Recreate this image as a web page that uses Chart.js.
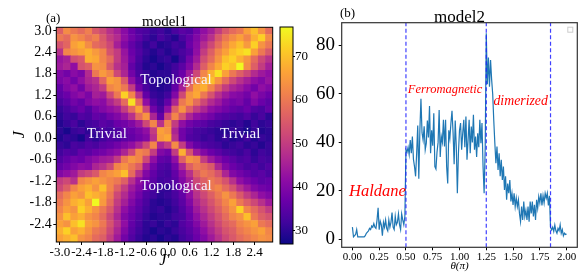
<!DOCTYPE html>
<html>
<head>
<meta charset="utf-8">
<script src="https://cdn.jsdelivr.net/npm/chart.js@4.4.0/dist/chart.umd.min.js"></script>
<style>
  body { margin: 0; background: #fff; }
  #wrap { position: relative; width: 582px; height: 276px; overflow: hidden; background: #fff; }
  canvas { position: absolute; top: 0; }
</style>
</head>
<body>
<div id="wrap">
  <canvas id="heat" width="300" height="276" style="left:0px"></canvas>
  <canvas id="cbar" width="50" height="276" style="left:270px"></canvas>
  <canvas id="line" width="282" height="276" style="left:300px"></canvas>
</div>
<script>
// ---- panel (a): model1, rows from top (J = 3.0) to bottom, columns from J' = -3.0 to the right
const model1Rows = [
  [56, 63, 60, 58, 61, 55, 52, 48, 45, 41, 37, 34, 33, 31, 32, 30, 33, 35, 34, 38, 42, 45, 50, 55, 58, 60, 66, 70, 64, 58],
  [60, 58, 64, 62, 59, 61, 55, 50, 47, 42, 38, 35, 32, 30, 33, 31, 29, 33, 36, 40, 44, 48, 55, 60, 63, 66, 62, 68, 72, 63],
  [54, 57, 66, 68, 63, 58, 56, 52, 45, 40, 36, 33, 30, 32, 29, 30, 32, 31, 37, 41, 47, 52, 58, 63, 67, 70, 65, 72, 64, 60],
  [48, 62, 64, 66, 68, 65, 62, 54, 50, 43, 37, 34, 31, 29, 31, 29, 31, 33, 35, 42, 50, 56, 62, 66, 70, 72, 74, 66, 60, 55],
  [43, 45, 53, 55, 68, 67, 62, 58, 50, 44, 38, 33, 30, 28, 30, 31, 28, 32, 38, 44, 53, 58, 64, 70, 72, 68, 64, 58, 52, 48],
  [44, 46, 42, 54, 56, 64, 63, 55, 48, 45, 36, 32, 29, 30, 28, 30, 32, 35, 40, 47, 56, 62, 67, 72, 70, 77, 63, 56, 50, 45],
  [40, 38, 41, 39, 47, 60, 65, 62, 52, 46, 38, 33, 31, 29, 30, 30, 33, 37, 44, 52, 62, 68, 74, 66, 60, 56, 52, 47, 44, 42],
  [39, 41, 38, 42, 46, 48, 57, 66, 64, 55, 42, 35, 31, 30, 28, 29, 34, 40, 50, 60, 66, 70, 64, 58, 52, 48, 45, 42, 40, 43],
  [36, 40, 42, 38, 44, 46, 50, 62, 64, 60, 50, 38, 33, 30, 29, 30, 36, 45, 58, 66, 68, 62, 56, 50, 46, 44, 41, 38, 42, 40],
  [35, 37, 40, 42, 39, 45, 44, 52, 60, 72, 62, 48, 36, 31, 30, 32, 40, 52, 64, 67, 60, 54, 48, 44, 41, 40, 38, 42, 39, 37],
  [33, 35, 38, 36, 40, 42, 41, 46, 50, 58, 74, 58, 42, 34, 31, 36, 46, 60, 64, 58, 52, 47, 44, 40, 38, 39, 36, 40, 37, 35],
  [31, 33, 35, 37, 34, 38, 40, 42, 44, 50, 58, 66, 52, 38, 33, 42, 56, 64, 56, 50, 46, 42, 40, 38, 36, 35, 37, 34, 33, 36],
  [30, 32, 31, 34, 33, 36, 35, 38, 40, 43, 48, 58, 64, 46, 36, 52, 62, 54, 46, 42, 40, 38, 35, 34, 33, 32, 34, 31, 33, 30],
  [29, 31, 33, 30, 32, 33, 35, 34, 37, 38, 40, 44, 52, 62, 48, 62, 50, 42, 38, 36, 35, 33, 32, 31, 30, 31, 29, 32, 30, 31],
  [30, 28, 31, 32, 30, 31, 33, 32, 34, 36, 37, 39, 42, 50, 66, 64, 46, 38, 35, 33, 32, 31, 30, 29, 31, 30, 28, 31, 29, 30],
  [29, 31, 30, 28, 32, 30, 32, 34, 33, 35, 36, 38, 40, 48, 65, 67, 48, 38, 34, 33, 31, 32, 30, 31, 29, 30, 32, 29, 31, 30],
  [31, 30, 33, 32, 34, 33, 35, 36, 38, 40, 42, 46, 52, 62, 46, 50, 63, 50, 40, 36, 34, 33, 32, 30, 31, 32, 30, 31, 29, 31],
  [32, 34, 33, 36, 35, 37, 38, 40, 42, 46, 52, 62, 60, 50, 40, 38, 50, 68, 54, 44, 40, 37, 35, 33, 32, 31, 33, 30, 32, 31],
  [34, 36, 38, 37, 40, 42, 44, 45, 50, 60, 64, 62, 52, 42, 36, 35, 42, 56, 64, 62, 50, 44, 40, 37, 35, 33, 34, 31, 33, 32],
  [36, 38, 40, 42, 41, 46, 48, 52, 62, 64, 60, 56, 44, 38, 34, 33, 38, 46, 56, 60, 58, 55, 46, 40, 37, 35, 33, 34, 32, 34],
  [40, 42, 44, 50, 52, 55, 62, 64, 66, 70, 58, 48, 40, 36, 33, 32, 36, 42, 48, 56, 60, 58, 54, 46, 40, 38, 36, 34, 35, 33],
  [50, 52, 48, 62, 64, 66, 64, 62, 60, 56, 48, 42, 38, 35, 32, 33, 35, 40, 45, 52, 56, 60, 58, 54, 48, 42, 39, 37, 35, 36],
  [52, 56, 62, 66, 68, 64, 70, 62, 56, 50, 44, 40, 36, 33, 31, 30, 34, 38, 44, 50, 55, 60, 62, 58, 54, 48, 44, 40, 38, 37],
  [58, 62, 66, 64, 70, 68, 66, 60, 52, 47, 42, 38, 34, 32, 30, 31, 33, 36, 42, 48, 52, 56, 60, 64, 60, 55, 50, 46, 42, 40],
  [60, 64, 68, 70, 66, 77, 65, 58, 50, 45, 40, 36, 33, 30, 29, 30, 32, 35, 40, 46, 50, 54, 58, 62, 66, 60, 56, 52, 48, 44],
  [62, 66, 64, 72, 68, 64, 60, 55, 48, 42, 38, 35, 32, 30, 31, 29, 31, 34, 38, 44, 48, 52, 56, 60, 64, 72, 62, 58, 54, 50],
  [64, 70, 66, 68, 64, 62, 58, 52, 46, 40, 37, 34, 31, 29, 30, 30, 32, 33, 37, 42, 46, 50, 54, 58, 62, 64, 70, 60, 56, 54],
  [66, 64, 70, 74, 66, 64, 60, 54, 48, 42, 36, 33, 30, 31, 29, 31, 30, 34, 36, 40, 44, 48, 52, 56, 58, 62, 64, 66, 60, 58],
  [68, 72, 66, 68, 64, 60, 58, 52, 46, 40, 35, 32, 30, 28, 30, 29, 31, 33, 35, 38, 42, 46, 50, 54, 56, 60, 62, 64, 66, 62],
  [66, 68, 70, 64, 62, 58, 56, 50, 44, 38, 34, 31, 29, 30, 28, 30, 29, 32, 34, 37, 40, 44, 48, 52, 55, 58, 60, 62, 64, 63]
];
const tickCells = [0, 3, 6, 9, 12, 15, 18, 21, 24, 27];
const jPrimeLabels = ['-3.0', '-2.4', '-1.8', '-1.2', '-0.6', '0.0', '0.6', '1.2', '1.8', '2.4'];
const jLabels = ['3.0', '2.4', '1.8', '1.2', '0.6', '0.0', '-0.6', '-1.2', '-1.8', '-2.4'];
const cbarMin = 26.9;
const cbarMax = 76.8;
const cbarTicks = [30, 40, 50, 60, 70];

// ---- panel (b): model2, theta from 0.00 to 2.00 (pi) in steps of 0.01
const model2Values = [
  5, 1, 1.5, 2, 4, 1, 1, 1, 1, 1,
  1, 1, 1.5, 2.5, 3, 3.5, 4.5, 4, 5.5, 5,
  6.5, 5, 4.5, 8, 13, 4, 7.5, 6, 1.5, 7,
  5, 8, 4.5, 3.5, 8, 5, 7, 11, 5, 4,
  9.5, 6, 7, 10.5, 6, 4, 10.5, 8, 6, 9.5,
  37, 36, 38, 35, 41, 35.5, 42.4, 33, 30, 26,
  35.5, 47, 25, 45, 58, 44, 41, 46.6, 37, 39.7,
  49, 42, 55, 35.5, 45, 38.6, 52, 30, 29, 36,
  40, 53.4, 34, 42.4, 40, 49.3, 38.3, 49.3, 30, 23,
  45, 41.7, 48, 53, 44, 31, 49, 38.3, 19, 35.5,
  45, 48, 37, 43.8, 49.3, 38, 50.7, 32.8, 41, 49.3,
  35.5, 46.5, 40, 51.4, 37, 42.4, 34, 43.8, 38, 49.3,
  39.7, 48, 30, 19, 38, 85, 64, 75, 63, 74,
  66, 60, 49, 39.7, 31.4, 38.3, 28.6, 35.5, 26, 32.8,
  24.5, 30, 20.4, 26, 16.3, 23, 19, 24.5, 15.6, 19,
  14.2, 19, 13.5, 17, 13.5, 16.3, 10.7, 7.3, 13.5, 8,
  15.6, 9.4, 12, 8, 13.5, 7.3, 15.6, 10.7, 15.6, 9.4,
  14.2, 8, 16.3, 12.8, 17.6, 15, 19, 14, 18, 15,
  19, 17, 19, 14, 18, 5, 3.9, 5, 3.2, 5.9,
  3.5, 2.5, 4.5, 3.5, 6, 2.5, 4, 1.4, 2.5, 2,
  2.2
];
const thetaTicks = [0, 0.25, 0.5, 0.75, 1.0, 1.25, 1.5, 1.75, 2.0];
const phaseEdges = [0.5, 1.25, 1.85];
const model2Ticks = [0, 20, 40, 60, 80];
const model2Min = -3.3;
const model2Max = 89.4;

const SERIF = '"Liberation Serif", "Times New Roman", serif';
Chart.defaults.font.family = SERIF;
Chart.defaults.color = '#000';

// matplotlib "plasma" at 0, 0.1, ... 1
const plasmaStops = [
  [13, 8, 135], [65, 4, 157], [106, 0, 168], [143, 13, 164], [177, 42, 144],
  [204, 71, 120], [225, 100, 98], [242, 132, 75], [252, 166, 54], [252, 206, 37], [240, 249, 33]
];
function plasma(t) {
  t = Math.min(1, Math.max(0, t));
  const p = t * 10;
  const i = Math.min(9, Math.floor(p));
  const f = p - i;
  const a = plasmaStops[i], b = plasmaStops[i + 1];
  const c = a.map((v, k) => Math.round(v + (b[k] - v) * f));
  return 'rgb(' + c.join(',') + ')';
}
const colorFor = v => plasma((v - cbarMin) / (cbarMax - cbarMin));

const cells = [];
const cellColors = [];
model1Rows.forEach((row, r) => row.forEach((v, c) => {
  cells.push({ x: c, y: [r - 0.5, r + 0.5] });
  cellColors.push(colorFor(v));
}));

const framePlugin = {
  id: 'frame',
  afterDraw(chart, args, opts) {
    const { ctx, chartArea: a } = chart;
    ctx.save();
    ctx.strokeStyle = opts.color || '#000';
    ctx.lineWidth = opts.width || 1;
    ctx.strokeRect(a.left, a.top, a.right - a.left, a.bottom - a.top);
    ctx.restore();
  }
};

const fixTicks = list => scale => { scale.ticks = list.map(v => ({ value: v })); };

// ---- heat map
const heatText = {
  id: 'heatText',
  afterDatasetsDraw(chart) {
    const { ctx, chartArea: a, scales: { x, y } } = chart;
    ctx.save();
    ctx.fillStyle = '#f6f4ff';
    ctx.font = '15px ' + SERIF;
    ctx.textAlign = 'center';
    ctx.textBaseline = 'alphabetic';
    [['Topological', 16.1, 7.4], ['Topological', 16.1, 22.3], ['Trivial', 6.5, 15.0], ['Trivial', 25.0, 15.0]]
      .forEach(([t, c, r]) => ctx.fillText(t, x.getPixelForValue(c), y.getPixelForValue(r)));
    ctx.restore();
  },
  afterDraw(chart) {
    const { ctx, chartArea: a } = chart;
    ctx.save();
    ctx.fillStyle = '#000';
    ctx.textBaseline = 'alphabetic';
    ctx.font = '15px ' + SERIF;
    ctx.textAlign = 'center';
    ctx.fillText('model1', (a.left + a.right) / 2, 25.5);
    ctx.font = '13px ' + SERIF;
    ctx.textAlign = 'left';
    ctx.fillText('(a)', 46, 22);
    ctx.restore();
  }
};

new Chart(document.getElementById('heat'), {
  type: 'bar',
  data: {
    datasets: [{
      data: cells,
      backgroundColor: cellColors,
      borderWidth: 0,
      barPercentage: 1,
      categoryPercentage: 1,
      grouped: false
    }]
  },
  options: {
    responsive: false,
    animation: false,
    layout: { padding: { top: 27.3, right: 27.3, left: 0, bottom: 0 }, autoPadding: false },
    plugins: { legend: { display: false }, tooltip: { enabled: false }, frame: { color: '#000', width: 1 } },
    scales: {
      x: {
        type: 'linear', min: -0.5, max: 29.5, offset: false,
        afterFit: s => { s.height = 34; },
        afterBuildTicks: fixTicks(tickCells),
        ticks: {
          callback: v => jPrimeLabels[tickCells.indexOf(v)],
          autoSkip: false, maxRotation: 0, minRotation: 0, padding: 0,
          font: { size: 13 }
        },
        grid: { drawOnChartArea: false, drawTicks: true, tickLength: 3, color: '#000', offset: false },
        border: { display: false },
        title: { display: true, text: 'J\u2032', font: { size: 16, style: 'italic' }, padding: { top: 0, bottom: 5.4 } }
      },
      y: {
        type: 'linear', reverse: true, min: -0.5, max: 29.5,
        afterFit: s => { s.width = 56.3; },
        afterBuildTicks: fixTicks(tickCells),
        ticks: {
          callback: v => jLabels[tickCells.indexOf(v)],
          autoSkip: false, padding: 1.6,
          font: { size: 14 }
        },
        grid: { drawOnChartArea: false, drawTicks: true, tickLength: 3, color: '#000' },
        border: { display: false },
        title: { display: true, text: 'J', font: { size: 16, style: 'italic' }, padding: { top: 10.4, bottom: 0 } }
      }
    }
  },
  plugins: [heatText, framePlugin]
});

// ---- colour bar
const gradientPlugin = {
  id: 'gradient',
  beforeDatasetsDraw(chart) {
    const { ctx, chartArea: a, scales: { y } } = chart;
    const g = ctx.createLinearGradient(0, y.getPixelForValue(cbarMin), 0, y.getPixelForValue(cbarMax));
    plasmaStops.forEach((s, k) => g.addColorStop(k / 10, 'rgb(' + s.join(',') + ')'));
    ctx.save();
    ctx.fillStyle = g;
    ctx.fillRect(a.left, a.top, a.right - a.left, a.bottom - a.top);
    ctx.restore();
  }
};

new Chart(document.getElementById('cbar'), {
  type: 'bar',
  data: { datasets: [] },
  options: {
    responsive: false,
    animation: false,
    layout: { padding: { top: 27, right: 0, left: 10, bottom: 32 }, autoPadding: false },
    plugins: { legend: { display: false }, tooltip: { enabled: false }, frame: { color: '#000', width: 1 } },
    scales: {
      x: { type: 'linear', display: false, min: 0, max: 1 },
      y: {
        type: 'linear', position: 'right', min: cbarMin, max: cbarMax,
        afterFit: s => { s.width = 27; },
        afterBuildTicks: fixTicks(cbarTicks),
        ticks: { padding: 0, font: { size: 13 } },
        grid: { drawOnChartArea: false, drawTicks: true, tickLength: 2, color: '#000' },
        border: { display: false }
      }
    }
  },
  plugins: [gradientPlugin, framePlugin]
});

// ---- line chart
const theta = model2Values.map((v, i) => i / 100);

const lineText = {
  id: 'lineText',
  afterDraw(chart) {
    const { ctx, chartArea: a, scales: { x, y } } = chart;
    ctx.save();
    ctx.fillStyle = '#ff0000';
    ctx.textAlign = 'left';
    ctx.textBaseline = 'alphabetic';
    [['Haldane', -0.032, 17.7, 16.5], ['Ferromagnetic', 0.517, 60.5, 12.5], ['dimerized', 1.317, 55.5, 13.8]]
      .forEach(([t, tx, ty, fs]) => {
        ctx.font = 'italic ' + fs + 'px ' + SERIF;
        ctx.fillText(t, x.getPixelForValue(tx), y.getPixelForValue(ty));
      });
    ctx.fillStyle = '#000';
    ctx.font = '17px ' + SERIF;
    ctx.textAlign = 'center';
    ctx.fillText('model2', (a.left + a.right) / 2, 21.5);
    ctx.font = '13px ' + SERIF;
    ctx.textAlign = 'left';
    ctx.fillText('(b)', 40, 17);
    // empty legend box
    ctx.strokeStyle = '#cccccc';
    ctx.lineWidth = 1;
    ctx.strokeRect(a.right - 9.5, a.top + 4.5, 5, 5);
    ctx.restore();
  }
};

new Chart(document.getElementById('line'), {
  type: 'line',
  data: {
    datasets: [
      {
        data: model2Values.map((v, i) => ({ x: theta[i], y: v })),
        borderColor: '#1f77b4',
        borderWidth: 1.2,
        pointRadius: 0,
        tension: 0,
        fill: false
      },
      ...phaseEdges.map(e => ({
        data: [{ x: e, y: model2Min }, { x: e, y: model2Max }],
        borderColor: 'rgba(30, 30, 255, 0.85)',
        borderWidth: 1.2,
        borderDash: [4, 2.5],
        pointRadius: 0,
        order: -1
      }))
    ]
  },
  options: {
    responsive: false,
    animation: false,
    layout: { padding: { top: 22.7, right: 4.7, left: 0, bottom: 0 }, autoPadding: false },
    plugins: { legend: { display: false }, tooltip: { enabled: false }, frame: { color: '#333', width: 1.2 } },
    scales: {
      x: {
        type: 'linear', min: -0.1, max: 2.1,
        afterFit: s => { s.height = 28.7; },
        afterBuildTicks: fixTicks(thetaTicks),
        ticks: { callback: v => v.toFixed(2), autoSkip: false, maxRotation: 0, minRotation: 0, padding: 0, font: { size: 11 } },
        grid: { drawOnChartArea: false, drawTicks: true, tickLength: 3, color: '#000', offset: false },
        border: { display: false },
        title: { display: true, text: '\u03b8(\u03c0)', font: { size: 11, style: 'italic' }, padding: { top: 0, bottom: 3.4 } }
      },
      y: {
        type: 'linear', min: model2Min, max: model2Max,
        afterFit: s => { s.width = 41.7; },
        afterBuildTicks: fixTicks(model2Ticks),
        ticks: { padding: 3.7, font: { size: 19 } },
        grid: { drawOnChartArea: false, drawTicks: true, tickLength: 3, color: '#000' },
        border: { display: false }
      }
    }
  },
  plugins: [lineText, framePlugin]
});
</script>
</body>
</html>
